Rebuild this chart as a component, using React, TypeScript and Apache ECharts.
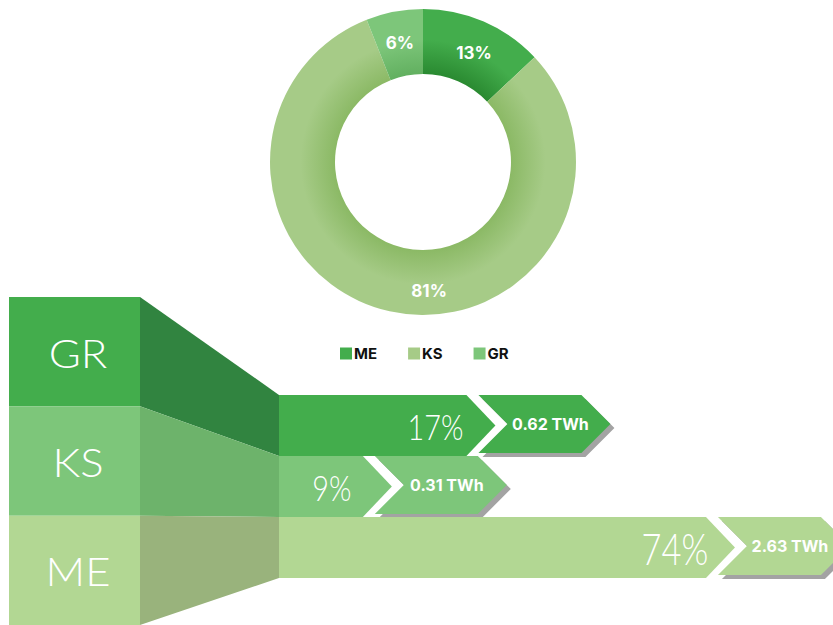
import React, { useEffect, useRef } from 'react';
import * as echarts from 'echarts';

// Donut data
const donutNames = ['ME', 'KS', 'GR'];
const donutShares = [13, 81, 6];

// Flow rows (top to bottom)
const rowNames = ['GR', 'KS', 'ME'];
const rowShares = [17, 9, 74];
const rowEnergy = [0.62, 0.31, 2.63];

const donutBase: Record<string, string> = { ME: '#43ad4c', KS: '#a6cb87', GR: '#7dc67a' };
const donutDark: Record<string, string> = { ME: '#2a8a31', KS: '#8bb965', GR: '#62b060' };
const rowBlock: Record<string, string> = { GR: '#43ad4c', KS: '#7dc67a', ME: '#b2d793' };
const rowSide: Record<string, string> = { GR: '#318440', KS: '#6db36b', ME: '#99b37c' };

const PIE_CX = 423;
const PIE_CY = 162;
const PIE_R0 = 88;
const PIE_R = 153;

export default function App() {
  const ref = useRef<HTMLDivElement>(null);
  useEffect(() => {
    if (!ref.current) return;
    document.body.style.margin = '0';
    document.body.style.overflow = 'hidden';
    const chart = echarts.init(ref.current, undefined, { renderer: 'svg' });

    const pieData = donutNames.map((n, i) => ({
      name: n,
      value: donutShares[i],
      itemStyle: {
        color: {
          type: 'radial',
          x: PIE_CX,
          y: PIE_CY,
          r: PIE_R,
          global: true,
          colorStops: [
            { offset: 0, color: donutDark[n] },
            { offset: PIE_R0 / PIE_R, color: donutDark[n] },
            { offset: 0.8, color: donutBase[n] },
            { offset: 1, color: donutBase[n] },
          ],
        },
      },
    }));

    const flowData = rowNames.map((n, i) => ({ value: [rowShares[i], n, rowEnergy[i]] }));

    const BLOCK_L = 9;
    const BLOCK_R = 140;
    const BAR_L = 279;
    const BAR_TOP0 = 395;
    const BAR_H = 61;
    const CHEV = 29;
    const GAP = 12;
    const TAG_W = 103;

    const option: any = {
      animation: false,
      tooltip: { show: false },
      legend: {
        left: 335,
        top: 341,
        icon: 'rect',
        itemWidth: 12,
        itemHeight: 12,
        itemGap: 31,
        selectedMode: false,
        textStyle: {
          fontFamily: 'Inter',
          fontWeight: 'bold',
          fontSize: 15,
          color: '#111',
          padding: [0, 0, 0, -3],
        },
        data: donutNames.map((n) => ({ name: n, itemStyle: { color: donutBase[n] } })),
      },
      grid: { left: 34, width: 750, top: 297, height: 331, show: false },
      xAxis: { type: 'log', logBase: 10, min: 1, max: 100, show: false },
      yAxis: { type: 'category', data: rowNames, inverse: true, show: false },
      series: [
        {
          type: 'pie',
          center: [PIE_CX, PIE_CY],
          radius: [PIE_R0, PIE_R],
          startAngle: 90,
          clockwise: true,
          silent: true,
          emphasis: { disabled: true },
          label: {
            show: true,
            position: 'inside',
            formatter: (p: any) => p.value + '%',
            color: '#fff',
            fontFamily: 'Inter',
            fontWeight: 'bold',
            fontSize: 17,
          },
          labelLine: { show: false },
          labelLayout: (p: any) =>
            p.dataIndex === 1 ? { dx: 33, dy: 8 } : p.dataIndex === 0 ? { dx: 2, dy: 4 } : { dy: 2 },
          data: pieData,
        },
        {
          type: 'custom',
          silent: true,
          encode: { x: 0, y: 1 },
          data: flowData,
          renderItem: (params: any, api: any) => {
            const i = params.dataIndex;
            const name = rowNames[i];
            const share = api.value(0);
            const energy = api.value(2);
            const pt = api.coord([share, api.value(1)]);
            const band = api.size([0, 1], [share, api.value(1)])[1];
            const tip = pt[0];
            const cy = pt[1];
            const top = cy - band / 2;
            const bottom = cy + band / 2;
            const bTop = BAR_TOP0 + i * BAR_H;
            const bBot = bTop + BAR_H;
            const bMid = (bTop + bBot) / 2;
            const tagBot = bBot - 3;
            const tMid = (bTop + tagBot) / 2;
            const tagL = tip - CHEV + GAP;
            const tagPts = [
              [tagL, bTop],
              [tagL + TAG_W, bTop],
              [tagL + TAG_W + CHEV, tMid],
              [tagL + TAG_W, tagBot],
              [tagL, tagBot],
              [tagL + CHEV, tMid],
            ];
            const children: any[] = [
              {
                type: 'rect',
                shape: { x: BLOCK_L, y: top, width: BLOCK_R - BLOCK_L, height: band },
                style: { fill: rowBlock[name] },
              },
              {
                type: 'text',
                x: 78,
                y: cy + 1,
                scaleX: 1.12,
                style: {
                  text: name,
                  fill: '#fff',
                  fontFamily: 'Lato',
                  fontWeight: 300,
                  fontSize: 39,
                  align: 'center',
                  verticalAlign: 'middle',
                },
              },
              {
                type: 'polygon',
                shape: { points: [[BLOCK_R, top], [BAR_L, bTop], [BAR_L, bBot], [BLOCK_R, bottom]] },
                style: { fill: rowSide[name] },
              },
              {
                type: 'polygon',
                shape: {
                  points: [[BAR_L, bTop], [tip - CHEV, bTop], [tip, bMid], [tip - CHEV, bBot], [BAR_L, bBot]],
                },
                style: { fill: rowBlock[name] },
              },
              {
                type: 'text',
                x: tip - 60,
                y: bMid + 1,
                scaleX: 0.8,
                style: {
                  text: share + '%',
                  fill: '#fff',
                  fontFamily: 'Lato',
                  fontWeight: 300,
                  fontSize: share > 50 ? 43 : 36,
                  align: 'center',
                  verticalAlign: 'middle',
                },
              },
              {
                type: 'polygon',
                x: 4,
                y: 4,
                shape: { points: tagPts },
                style: { fill: '#a3a3a3' },
              },
              {
                type: 'polygon',
                shape: { points: tagPts },
                style: { fill: rowBlock[name] },
              },
              {
                type: 'text',
                x: tip + 55,
                y: tMid,
                style: {
                  text: energy.toFixed(2) + ' TWh',
                  fill: '#fff',
                  fontFamily: 'Inter',
                  fontWeight: 'bold',
                  fontSize: 16,
                  align: 'center',
                  verticalAlign: 'middle',
                },
              },
            ];
            return { type: 'group', children };
          },
        },
      ],
    };

    chart.setOption(option);
    return () => chart.dispose();
  }, []);

  return <div ref={ref} style={{ width: 833, height: 625, background: '#fff' }} />;
}
